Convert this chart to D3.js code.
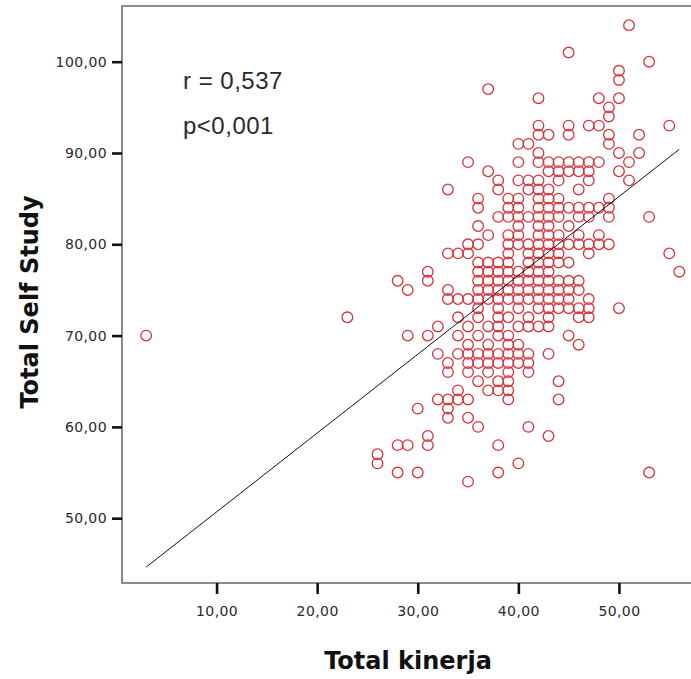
<!DOCTYPE html>
<html>
<head>
<meta charset="utf-8">
<script src="https://cdn.jsdelivr.net/npm/d3@7"></script>
<style>
  body { margin: 0; background: #fff; }
  svg { display: block; }
</style>
</head>
<body>
<svg id="chart"></svg>
<script>
// Constants
const width = 691;
const height = 679;

// Data: one entry per Self Study score, with the Kinerja scores seen at that row
const selfStudyRows = [104, 101, 100, 99, 98, 97, 96, 95, 94, 93, 92, 91, 90, 89, 88, 87, 86, 85,
  84, 83, 82, 81, 80, 79, 78, 77, 76, 75, 74, 73, 72, 71, 70, 69, 68, 67, 66, 65, 64, 63,
  62, 61, 60, 59, 58, 57, 56, 55, 54];
const kinerjaByRow = [
  [51], [45], [53], [50], [50], [37],
  [42, 48, 50],
  [49],
  [49],
  [42, 45, 47, 48, 55],
  [42, 43, 45, 49, 52],
  [40, 41, 49],
  [42, 50, 52],
  [35, 40, 42, 43, 44, 45, 46, 47, 48, 51],
  [37, 43, 44, 45, 46, 47, 50],
  [38, 40, 41, 42, 44, 47, 51],
  [33, 38, 41, 42, 43, 46],
  [36, 39, 40, 42, 43, 44, 49],
  [36, 39, 40, 42, 43, 44, 45, 46, 47, 48, 49],
  [38, 39, 40, 41, 42, 43, 44, 46, 47, 49, 53],
  [36, 40, 42, 43, 45],
  [37, 39, 40, 42, 43, 44, 46, 48],
  [35, 36, 39, 40, 41, 42, 43, 44, 45, 46, 47, 48, 49],
  [33, 34, 35, 39, 41, 42, 43, 44, 47, 55],
  [36, 37, 38, 39, 41, 42, 43, 44, 45],
  [31, 36, 37, 38, 39, 40, 41, 42, 43, 56],
  [28, 31, 36, 37, 38, 39, 40, 41, 42, 43, 44, 45, 46],
  [29, 33, 36, 37, 38, 39, 40, 41, 42, 43, 44, 45, 46],
  [33, 34, 35, 36, 37, 38, 39, 40, 41, 42, 43, 44, 45, 47],
  [36, 38, 40, 42, 43, 44, 45, 46, 47, 50],
  [23, 34, 36, 38, 39, 41, 43, 46, 47],
  [32, 35, 37, 38, 40, 41, 42, 43],
  [3, 29, 31, 34, 36, 38, 39, 45],
  [35, 37, 39, 40, 46],
  [32, 34, 35, 36, 37, 38, 39, 40, 41, 43],
  [33, 35, 36, 37, 38, 39, 40, 41],
  [33, 35, 37, 39, 41],
  [36, 38, 39, 44],
  [34, 37, 38, 39],
  [32, 33, 34, 35, 39, 44],
  [30, 33],
  [33, 35],
  [36, 41],
  [31, 43],
  [28, 29, 31, 38],
  [26],
  [26, 40],
  [28, 30, 38, 53],
  [35]
];

const fitIntercept = 42.05;
const fitSlope = 0.8635;
const statLabels = ["r = 0,537", "p<0,001"];

const xTicks = [10, 20, 30, 40, 50];
const yTicks = [50, 60, 70, 80, 90, 100];

// Flatten to points
const points = [];
selfStudyRows.forEach((s, i) => {
  kinerjaByRow[i].forEach((k) => points.push({ kinerja: k, selfStudy: s }));
});

const svg = d3.select("#chart")
  .attr("width", width)
  .attr("height", height);

// Scales (the plot frame runs past the right edge of the picture)
const x = d3.scaleLinear().domain([0.6, 57.5]).range([122, 694.4]);
const y = d3.scaleLinear().domain([42.9, 106.1]).range([583, 6]);

const fmt = (d) => d3.format(".2f")(d).replace(".", ",");

// Frame
svg.append("rect")
  .attr("x", 122)
  .attr("y", 6)
  .attr("width", 600)
  .attr("height", 577)
  .attr("fill", "#fff")
  .attr("stroke", "#6e6e6e")
  .attr("stroke-width", 1.6);

// Y axis
const yAxis = svg.append("g")
  .attr("transform", "translate(122,0)")
  .call(d3.axisLeft(y).tickValues(yTicks).tickSize(10).tickPadding(5).tickFormat(fmt));
yAxis.select(".domain").remove();
yAxis.selectAll(".tick line").attr("stroke", "#111").attr("stroke-width", 2.6);
yAxis.selectAll(".tick text")
  .style("font-family", "DejaVu Sans")
  .style("font-size", "14px")
  .style("letter-spacing", "0.4px")
  .attr("fill", "#2a2a2a");

// X axis
const xAxis = svg.append("g")
  .attr("transform", "translate(0,583)")
  .call(d3.axisBottom(x).tickValues(xTicks).tickSize(11).tickPadding(12).tickFormat(fmt));
xAxis.select(".domain").remove();
xAxis.selectAll(".tick line").attr("stroke", "#111").attr("stroke-width", 2.6);
xAxis.selectAll(".tick text")
  .style("font-family", "DejaVu Sans")
  .style("font-size", "14px")
  .style("letter-spacing", "0.4px")
  .attr("fill", "#2a2a2a");

// Points
svg.append("g")
  .selectAll("circle")
  .data(points)
  .enter().append("circle")
  .attr("cx", (d) => x(d.kinerja))
  .attr("cy", (d) => y(d.selfStudy))
  .attr("r", 5.3)
  .attr("fill", "none")
  .attr("stroke", "#d8323a")
  .attr("stroke-width", 1.3);

// Fit line over the range of the data
const [xMin, xMax] = d3.extent(points, (d) => d.kinerja);
svg.append("line")
  .attr("x1", x(xMin))
  .attr("y1", y(fitIntercept + fitSlope * xMin))
  .attr("x2", x(xMax))
  .attr("y2", y(fitIntercept + fitSlope * xMax))
  .attr("stroke", "#111")
  .attr("stroke-width", 1);

// Stats annotation
svg.selectAll(".stat")
  .data(statLabels)
  .enter().append("text")
  .attr("class", "stat")
  .attr("x", 183)
  .attr("y", (d, i) => 89 + i * 45)
  .style("font-family", "Liberation Sans")
  .style("font-size", "24px")
  .style("letter-spacing", "0.5px")
  .attr("fill", "#2a2a2a")
  .text((d) => d);

// Axis titles
svg.append("text")
  .attr("x", 408)
  .attr("y", 669)
  .attr("text-anchor", "middle")
  .style("font-family", "DejaVu Sans")
  .style("font-weight", "bold")
  .style("font-size", "24px")
  .attr("fill", "#111")
  .text("Total kinerja");

svg.append("text")
  .attr("transform", "translate(38,302) rotate(-90)")
  .attr("text-anchor", "middle")
  .style("font-family", "DejaVu Sans")
  .style("font-weight", "bold")
  .style("font-size", "24px")
  .attr("fill", "#111")
  .text("Total Self Study");
</script>
</body>
</html>
